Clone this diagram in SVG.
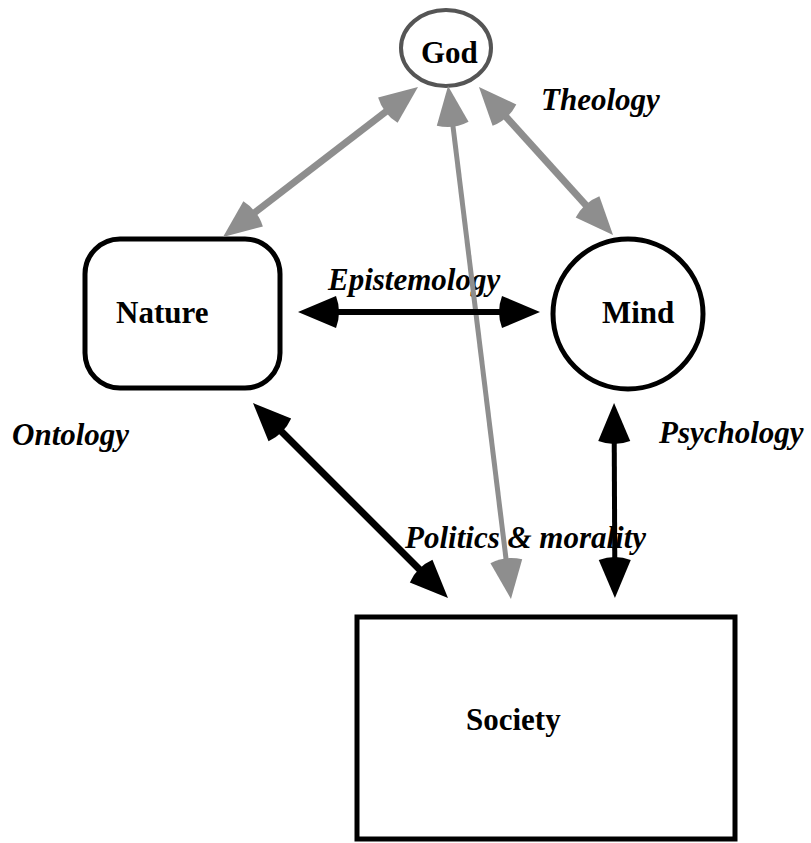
<svg xmlns="http://www.w3.org/2000/svg" width="811" height="843" viewBox="0 0 811 843">
<style>
.node{fill:#fff;stroke:#000;stroke-width:5}
.god{fill:#fff;stroke:#555;stroke-width:4}
.nl{font-family:"Liberation Serif","Times New Roman",serif;font-weight:bold;font-size:31px;fill:#000}
.el{font-family:"Liberation Serif","Times New Roman",serif;font-weight:bold;font-style:italic;font-size:31px;fill:#000}
.g{stroke:#8e8e8e;fill:none}
.b{stroke:#000;fill:none}
</style>
<defs>
<marker id="hg" markerUnits="userSpaceOnUse" viewBox="-15 -17 46 34" refX="0" refY="0" markerWidth="46" markerHeight="34" orient="auto-start-reverse" overflow="visible">
<path d="M30,0 L-8,-16 Q-14,0 -8,16 Z" fill="#8e8e8e"/>
</marker>
<marker id="hb" markerUnits="userSpaceOnUse" viewBox="-15 -17 46 34" refX="0" refY="0" markerWidth="46" markerHeight="34" orient="auto-start-reverse" overflow="visible">
<path d="M30,0 L-8,-16 Q-14,0 -8,16 Z" fill="#000"/>
</marker>
</defs>
<rect width="811" height="843" fill="#fff"/>
<g id="god"><ellipse class="god" cx="446" cy="48" rx="45" ry="38"/><text class="nl" x="421" y="63">God</text></g>
<g id="nature"><rect class="node" x="85" y="239" width="195" height="149" rx="35"/><text class="nl" x="116" y="323">Nature</text></g>
<g id="mind"><circle class="node" cx="628" cy="314" r="75"/><text class="nl" x="602" y="323">Mind</text></g>
<g id="society"><rect class="node" x="357" y="617" width="378" height="222"/><text class="nl" x="466" y="730">Society</text></g>
<g id="labels">
<text class="el" x="541" y="110">Theology</text>
<text class="el" x="328" y="290">Epistemology</text>
<text class="el" x="12" y="445">Ontology</text>
<text class="el" x="659" y="443">Psychology</text>
<text class="el" x="405" y="548">Politics &amp; morality</text>
</g>
<g id="connectors">
<line class="g" stroke-width="7" x1="246.8" y1="218.7" x2="394.2" y2="105.3" marker-start="url(#hg)" marker-end="url(#hg)"/>
<line class="g" stroke-width="5" x1="451.7" y1="115.8" x2="507.3" y2="569.2" marker-start="url(#hg)" marker-end="url(#hg)"/>
<line class="g" stroke-width="7" x1="499.1" y1="109.2" x2="592.9" y2="212.8" marker-start="url(#hg)" marker-end="url(#hg)"/>
<line class="b" stroke-width="6" x1="328" y1="312" x2="510" y2="312" marker-start="url(#hb)" marker-end="url(#hb)"/>
<line class="b" stroke-width="7" x1="274.2" y1="424.2" x2="426.8" y2="576.8" marker-start="url(#hb)" marker-end="url(#hb)"/>
<line class="b" stroke-width="5" x1="614.2" y1="433" x2="614.8" y2="568" marker-start="url(#hb)" marker-end="url(#hb)"/>
</g>
</svg>
